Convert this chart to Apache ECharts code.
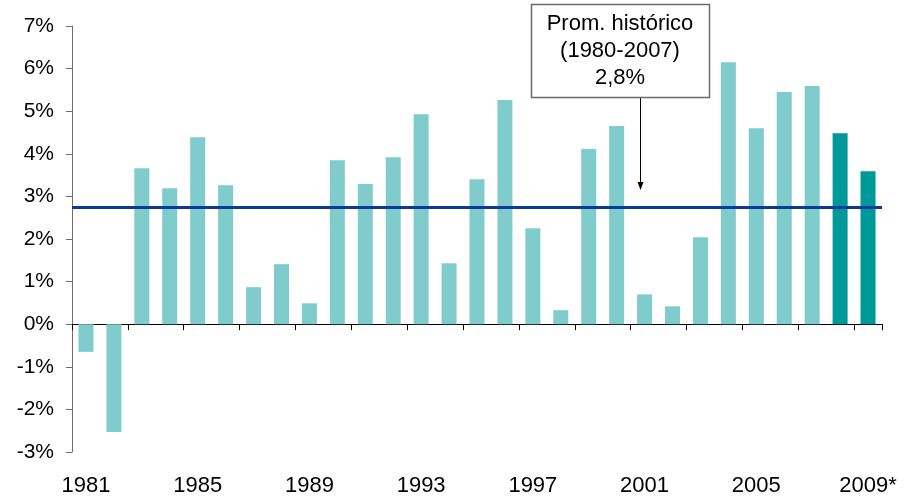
<!DOCTYPE html>
<html>
<head>
<meta charset="utf-8">
<script src="https://cdn.jsdelivr.net/npm/echarts@6/dist/echarts.min.js"></script>
<style>
  html, body { margin: 0; padding: 0; background: #fff; }
  #chart { width: 910px; height: 498px; }
</style>
</head>
<body>
<div id="chart"></div>
<script>
// Annual growth, 1981-2009 (2008 and 2009 are estimates)
const years = ['1981','1982','1983','1984','1985','1986','1987','1988','1989','1990',
               '1991','1992','1993','1994','1995','1996','1997','1998','1999','2000',
               '2001','2002','2003','2004','2005','2006','2007','2008','2009*'];
const growth = [-0.65, -2.53, 3.66, 3.19, 4.39, 3.26, 0.87, 1.41, 0.49, 3.85,
                3.29, 3.92, 4.93, 1.43, 3.40, 5.26, 2.25, 0.33, 4.11, 4.65,
                0.70, 0.42, 2.04, 6.15, 4.60, 5.45, 5.59, 4.48, 3.59];
// First year drawn as an estimate
const firstEstimateYear = '2008';
// Historical average 1980-2007
const historicalAverage = 2.75;
const averageTitle = ['Prom. histórico', '(1980-2007)'];
// Value axis range
const yMin = -3, yMax = 7, yStep = 1;

const FONT = 'Arial, "Liberation Sans", sans-serif';
const LIGHT = '#80CCCC';
const DARK = '#009999';

const estimateStart = years.indexOf(firstEstimateYear);
const barData = growth.map((v, i) => ({
  value: v,
  itemStyle: { color: i >= estimateStart ? DARK : LIGHT }
}));

const avgText = averageTitle.concat([historicalAverage.toFixed(1).replace('.', ',') + '%']).join('\n');

const chart = echarts.init(document.getElementById('chart'), null, { renderer: 'canvas' });

chart.setOption({
  animation: false,
  backgroundColor: '#fff',
  grid: { left: 72, right: 28, top: 26, bottom: 46, outerBoundsMode: 'none' },
  xAxis: [
    {
      type: 'category',
      data: years,
      position: 'bottom',
      axisLine: { onZero: true, lineStyle: { color: '#000', width: 1 } },
      axisTick: { show: true, interval: 1, length: 6, lineStyle: { color: '#000' } },
      axisLabel: { show: false },
      splitLine: { show: false }
    },
    {
      type: 'category',
      data: years,
      position: 'bottom',
      axisLine: { show: false, onZero: false },
      axisTick: { show: false },
      axisLabel: {
        show: true, interval: 3, margin: 23,
        fontFamily: FONT, fontSize: 22, color: '#000'
      },
      splitLine: { show: false }
    }
  ],
  yAxis: {
    type: 'value',
    min: yMin, max: yMax, interval: yStep,
    axisLine: { show: true, lineStyle: { color: '#6e6e6e', width: 1 } },
    axisTick: { show: true, length: 6, lineStyle: { color: '#6e6e6e' } },
    axisLabel: {
      margin: 18, fontFamily: FONT, fontSize: 21, color: '#000',
      formatter: v => v + '%'
    },
    splitLine: { show: false }
  },
  series: [
    {
      type: 'bar',
      xAxisIndex: 0,
      data: barData,
      barWidth: 15,
      markLine: {
        silent: true,
        symbol: ['none', 'none'],
        label: { show: false },
        lineStyle: { color: '#0B3A9A', width: 3, type: 'solid' },
        data: [{ yAxis: historicalAverage }]
      }
    }
  ],
  graphic: [
    {
      type: 'rect',
      shape: { x: 531.5, y: 4.5, width: 178, height: 93 },
      style: { fill: '#fff', stroke: '#6a6a6a', lineWidth: 1.5 },
      z: 10
    },
    {
      type: 'text',
      x: 620, y: 51,
      style: {
        text: avgText,
        fontFamily: FONT, fontSize: 22, lineHeight: 27,
        fill: '#000', align: 'center', verticalAlign: 'middle'
      },
      z: 11
    },
    {
      type: 'line',
      shape: { x1: 640.5, y1: 98, x2: 640.5, y2: 183 },
      style: { stroke: '#000', lineWidth: 1 },
      z: 10
    },
    {
      type: 'polygon',
      shape: { points: [[637.5, 182], [643.5, 182], [640.5, 190]] },
      style: { fill: '#000' },
      z: 10
    }
  ]
});
</script>
</body>
</html>
